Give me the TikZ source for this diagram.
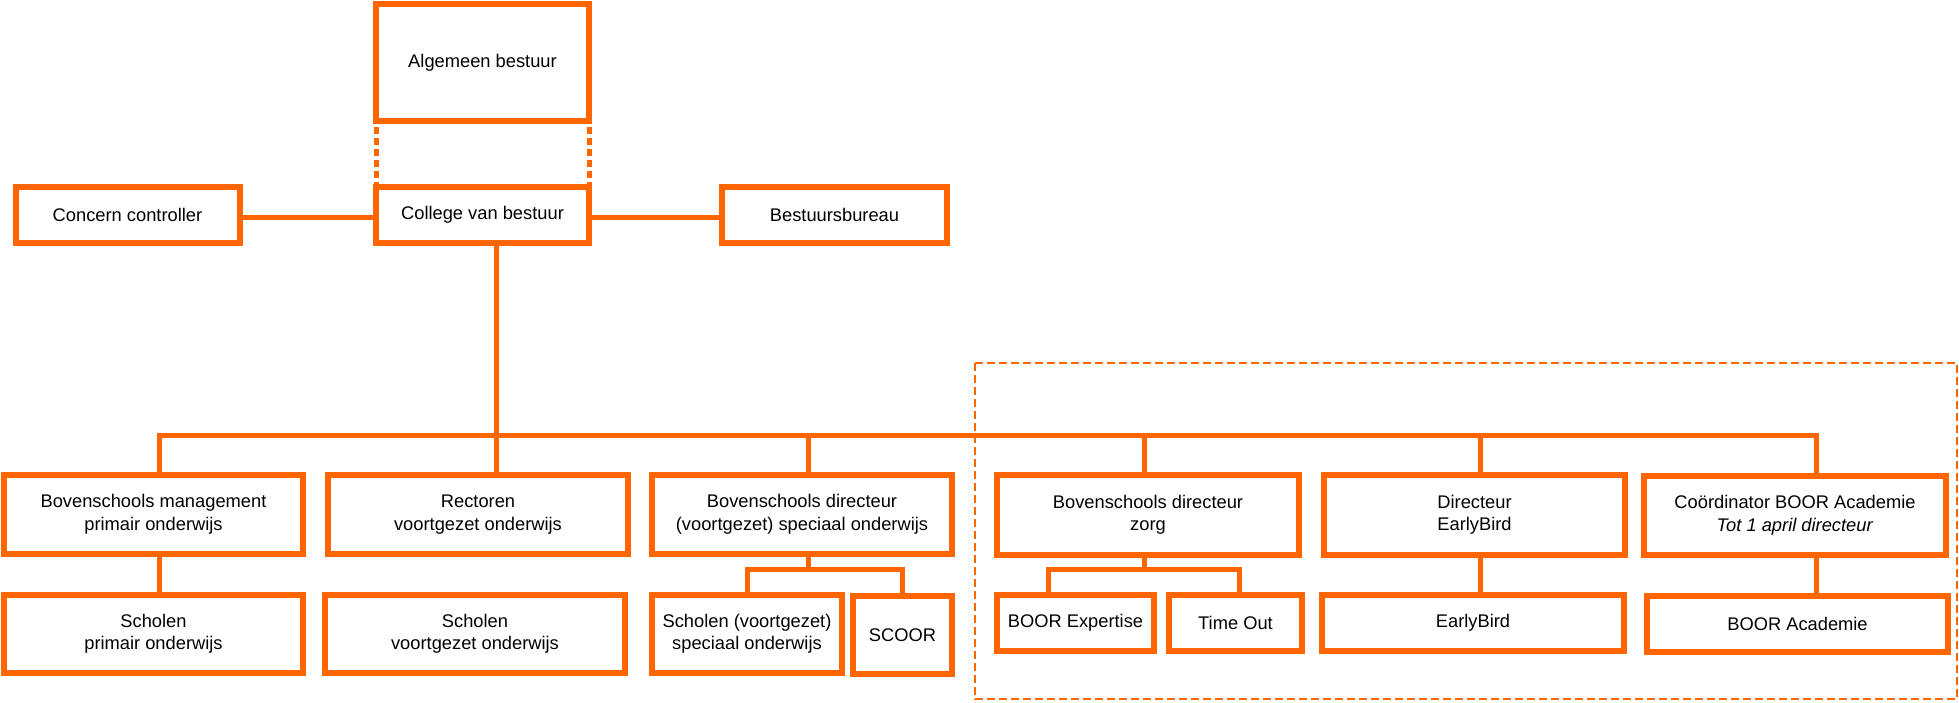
\documentclass[tikz,border=0pt]{standalone}
\usepackage{fontspec}
\setmainfont{Liberation Sans}
\definecolor{orng}{RGB}{255,102,0}
\tikzset{
  box/.style={draw=orng, line width=6pt, fill=white, inner sep=0pt, align=center,
    font=\fontsize{18.3}{22.5}\selectfont},
  conn/.style={draw=orng, line width=5pt},
  dotline/.style={draw=orng, line width=5pt, dash pattern=on 7pt off 4pt},
  frame/.style={draw=orng, line width=2pt, dash pattern=on 8pt off 4pt}
}
\begin{document}
\begin{tikzpicture}[x=1pt,y=-1pt]
\useasboundingbox (0,0) rectangle (1959,703);
% dashed frame
\draw[frame] (975,363) rectangle (1957,699);
% coordinates of bus drops
\coordinate (d1) at (159,435);
\coordinate (d2) at (496,435);
\coordinate (d3) at (808,435);
\coordinate (d4) at (1144,435);
\coordinate (d5) at (1480,435);
\coordinate (d6) at (1816,435);
\coordinate (b1) at (808,569);
\coordinate (b2) at (1144,569);
\coordinate (b2l) at (1048,569);
\coordinate (b2r) at (1239,569);
% dotted links (drawn below the boxes)
\coordinate (abl) at (376,127);
\coordinate (abr) at (589,127);
% boxes
\node[box, minimum width=213pt, minimum height=117pt] (ab) at (482.5,62.5) {Algemeen bestuur};
\node[box, minimum width=213pt, minimum height=56pt] (cvb) at (482.5,215) {College van bestuur};
\draw[dotline] (abl) -- (abl |- cvb.north);
\draw[dotline] (abr) -- (abr |- cvb.north);
\node[box, minimum width=224pt, minimum height=56pt] (cc) at (127.5,215) {Concern controller};
\node[box, minimum width=225pt, minimum height=56pt] (bb) at (834.5,215) {Bestuursbureau};
\node[box, minimum width=299pt, minimum height=79pt] (mgmt) at (153.5,514.5) {Bovenschools management\\primair onderwijs};
\node[box, minimum width=300pt, minimum height=79pt] (rect) at (478,514.5) {Rectoren\\voortgezet onderwijs};
\node[box, minimum width=300pt, minimum height=79pt] (vsod) at (802,514.5) {Bovenschools directeur\\(voortgezet) speciaal onderwijs};
\node[box, minimum width=302pt, minimum height=80pt] (zorg) at (1148,515) {Bovenschools directeur\\zorg};
\node[box, minimum width=301pt, minimum height=80pt] (edir) at (1474.5,515) {Directeur\\EarlyBird};
\node[box, minimum width=302pt, minimum height=79pt] (coord) at (1795,515.5) {Coördinator BOOR Academie\\\textit{Tot 1 april directeur}};
\node[box, minimum width=299pt, minimum height=78pt] (spo) at (153.5,634) {Scholen\\primair onderwijs};
\node[box, minimum width=300pt, minimum height=78pt] (svo) at (475,634) {Scholen\\voortgezet onderwijs};
\node[box, minimum width=190pt, minimum height=78pt] (sso) at (747,634) {Scholen (voortgezet)\\speciaal onderwijs};
\node[box, minimum width=99pt, minimum height=78pt] (scoor) at (902.5,635) {SCOOR};
\node[box, minimum width=157pt, minimum height=56pt] (bexp) at (1075.5,623) {BOOR Expertise};
\node[box, minimum width=133pt, minimum height=56pt] (tout) at (1235.5,623) {Time Out};
\node[box, minimum width=302pt, minimum height=56pt] (eb) at (1473,623) {EarlyBird};
\node[box, minimum width=301pt, minimum height=56pt] (bacad) at (1797.5,624) {BOOR Academie};
% connectors
\draw[conn] ([yshift=-3pt]cc.east) -- ([yshift=-3pt]cc.east -| cvb.west);
\draw[conn] ([yshift=-3pt]cvb.east) -- ([yshift=-3pt]cvb.east -| bb.west);
\draw[conn] (cvb.south -| d2) -- (rect.north -| d2);
\draw[conn] (mgmt.north -| d1) -- (d1) -- (d6) -- (coord.north -| d6);
\draw[conn] (d3) -- (vsod.north -| d3);
\draw[conn] (d4) -- (zorg.north -| d4);
\draw[conn] (d5) -- (edir.north -| d5);
\draw[conn] (mgmt.south -| d1) -- (spo.north -| d1);
\draw[conn] (vsod.south -| b1) -- (b1);
\draw[conn] (sso.north) -- (sso.north |- b1) -- (scoor.north |- b1) -- (scoor.north);
\draw[conn] (zorg.south -| b2) -- (b2);
\draw[conn] (bexp.north -| b2l) -- (b2l) -- (b2r) -- (tout.north -| b2r);
\draw[conn] (edir.south -| d5) -- (eb.north -| d5);
\draw[conn] (coord.south -| d6) -- (bacad.north -| d6);
\end{tikzpicture}
\end{document}
